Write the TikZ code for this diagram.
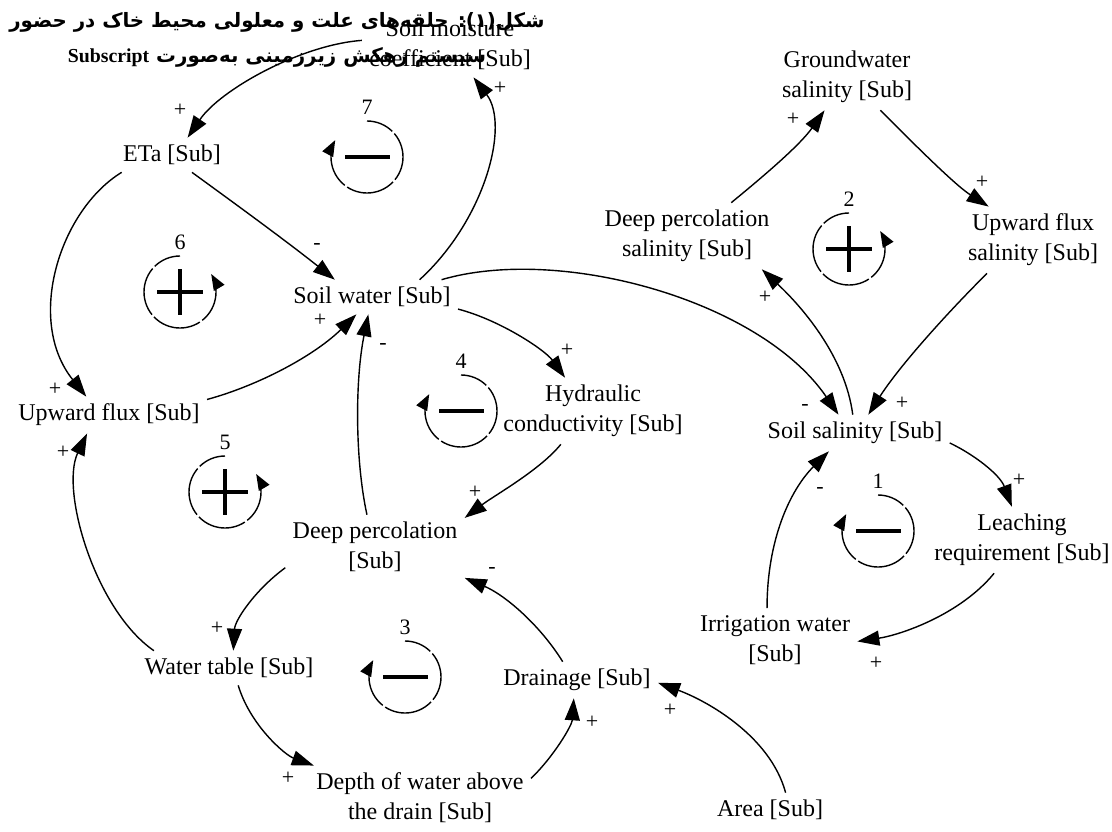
\documentclass[tikz,border=0pt]{standalone}
\usepackage{fontspec}
\setmainfont{Liberation Serif}
\newfontfamily\fatitle[Script=Arabic]{DejaVu Sans}
\TeXXeTstate=1
\usetikzlibrary{arrows.meta}
\begin{document}
\begin{tikzpicture}[x=0.5pt,y=-0.5pt,
  var/.style={align=center,inner sep=3.5pt,font=\fontsize{12}{15}\selectfont},
  pol/.style={inner sep=0pt,font=\fontsize{11}{11}\selectfont},
  lnum/.style={inner sep=0pt,font=\fontsize{11}{11}\selectfont},
  link/.style={line width=0.7pt,-{Triangle[length=11pt,width=7.5pt]}},
  loopneg/.style={line width=0.7pt,-{Triangle[length=8pt,width=6pt]},dash pattern=on 25pt off 1.5pt,dash phase=11pt},
  looppos/.style={loopneg},
  loopbar/.style={line width=1.6pt}]
\useasboundingbox[fill=white] (0,0) rectangle (1112,831);

% title
\node[font=\fatitle\bfseries\fontsize{9.9}{17.5}\selectfont,align=center,inner sep=0pt] (title) at (277,40)
 {\beginR شکل(۱): حلقه‌های علت و معلولی محیط خاک در حضور\endR\\
  \beginR سیستم زهکش زیرزمینی به‌صورت \beginL{\rmfamily\bfseries Subscript}\endL\endR};

% variables
\node[var] (smc) at (450,45) {Soil moisture\\coefficient [Sub]};
\node[var] (eta) at (172,155) {ETa [Sub]};
\node[var] (sw) at (372,297) {Soil water [Sub]};
\node[var] (uf) at (109,415) {Upward flux [Sub]};
\node[var] (hc) at (593,411) {Hydraulic\\conductivity [Sub]};
\node[var] (dp) at (375,547) {Deep percolation\\{[Sub]}};
\node[var] (wt) at (229,668) {Water table [Sub]};
\node[var] (dr) at (577,680) {Drainage [Sub]};
\node[var] (dw) at (420,798) {Depth of water above\\the drain [Sub]};
\node[var] (area) at (770,810) {Area [Sub]};
\node[var] (irr) at (775,640) {Irrigation water\\{[Sub]}};
\node[var] (ss) at (855,433) {Soil salinity [Sub]};
\node[var] (lr) at (1022,540) {Leaching\\requirement [Sub]};
\node[var] (dps) at (687,236) {Deep percolation\\salinity [Sub]};
\node[var] (gws) at (847,77) {Groundwater\\salinity [Sub]};
\node[var] (ufs) at (1033,240) {Upward flux\\salinity [Sub]};

% links
\draw[link] (smc.177) .. controls (300,45) and (220,90) .. (eta.48);
\draw[link] (eta.199) .. controls (60,210) and (25,320) .. (uf.141);
\draw[link] (eta.-41) .. controls (230,200) and (285,240) .. (sw.155);
\draw[link] (sw.20) .. controls (485,220) and (510,125) .. (smc.-54);
\draw[link] (uf.9) .. controls (260,385) and (315,355) .. (sw.-132);
\draw[link] (dp.104) .. controls (355,460) and (355,380) .. (sw.-102);
\draw[link] (sw.-8) .. controls (500,320) and (545,350) .. (hc.130);
\draw[link] (hc.-134) .. controls (540,470) and (495,495) .. (dp.18);
\draw[link] (sw.14) .. controls (560,245) and (760,300) .. (ss.132);
\draw[link] (dp.193) .. controls (255,590) and (235,620) .. (wt.76);
\draw[link] (wt.-62) .. controls (250,725) and (285,755) .. (dw.163);
\draw[link] (dw.10) .. controls (555,755) and (572,725) .. (dr.-100);
\draw[link] (area.48) .. controls (770,735) and (705,700) .. (dr.-2);
\draw[link] (dr.128) .. controls (540,625) and (505,595) .. (dp.-19);
\draw[link] (wt.167) .. controls (95,610) and (60,490) .. (uf.-140);
\draw[link] (ss.97) .. controls (845,355) and (800,305) .. (dps.-24);
\draw[link] (dps.37) .. controls (765,175) and (800,145) .. (gws.-124);
\draw[link] (gws.-45) .. controls (915,145) and (955,185) .. (ufs.143);
\draw[link] (ufs.-144) .. controls (950,310) and (900,365) .. (ss.54);
\draw[link] (ss.-6) .. controls (975,455) and (1000,475) .. (lr.107);
\draw[link] (lr.-130) .. controls (960,615) and (900,635) .. (irr.-1);
\draw[link] (irr.104) .. controls (767,540) and (790,490) .. (ss.-145);

% polarities
\node[pol] (p1) at (180,110) {+};
\node[pol] (p2) at (55,389) {+};
\node[pol] (p3) at (317,246) {-};
\node[pol] (p4) at (500,88) {+};
\node[pol] (p5) at (320,320) {+};
\node[pol] (p6) at (383,346) {-};
\node[pol] (p7) at (567,350) {+};
\node[pol] (p8) at (475,492) {+};
\node[pol] (p9) at (805,407) {-};
\node[pol] (p10) at (217,628) {+};
\node[pol] (p11) at (288,778) {+};
\node[pol] (p12) at (592,722) {+};
\node[pol] (p13) at (670,710) {+};
\node[pol] (p14) at (492,570) {-};
\node[pol] (p15) at (63,452) {+};
\node[pol] (p16) at (765,297) {+};
\node[pol] (p17) at (793,119) {+};
\node[pol] (p18) at (982,182) {+};
\node[pol] (p19) at (902,403) {+};
\node[pol] (p20) at (1019,480) {+};
\node[pol] (p21) at (876,663) {+};
\node[pol] (p22) at (820,490) {-};

% loop 1 (negative)
\draw[loopneg] (878,495) arc[start angle=-90,end angle=208,radius=36];
\draw[loopbar] (856,531) -- (901,531);
\node[lnum] (n1) at (878,481) {1};
% loop 2 (positive)
\draw[looppos] (849,213) arc[start angle=270,end angle=-30,radius=36];
\draw[loopbar] (826,249) -- (872,249) (849,226) -- (849,272);
\node[lnum] (n2) at (849,199) {2};
% loop 3 (negative)
\draw[loopneg] (405,641) arc[start angle=-90,end angle=208,radius=36];
\draw[loopbar] (383,677) -- (428,677);
\node[lnum] (n3) at (405,627) {3};
% loop 4 (negative)
\draw[loopneg] (461,375) arc[start angle=-90,end angle=208,radius=36];
\draw[loopbar] (439,411) -- (484,411);
\node[lnum] (n4) at (461,361) {4};
% loop 5 (positive)
\draw[looppos] (225,456) arc[start angle=270,end angle=-30,radius=36];
\draw[loopbar] (202,492) -- (248,492) (225,469) -- (225,515);
\node[lnum] (n5) at (225,442) {5};
% loop 6 (positive)
\draw[looppos] (180,256) arc[start angle=270,end angle=-30,radius=36];
\draw[loopbar] (157,292) -- (203,292) (180,269) -- (180,315);
\node[lnum] (n6) at (180,242) {6};
% loop 7 (negative)
\draw[loopneg] (367,121) arc[start angle=-90,end angle=208,radius=36];
\draw[loopbar] (345,157) -- (390,157);
\node[lnum] (n7) at (367,107) {7};
\end{tikzpicture}
\end{document}
